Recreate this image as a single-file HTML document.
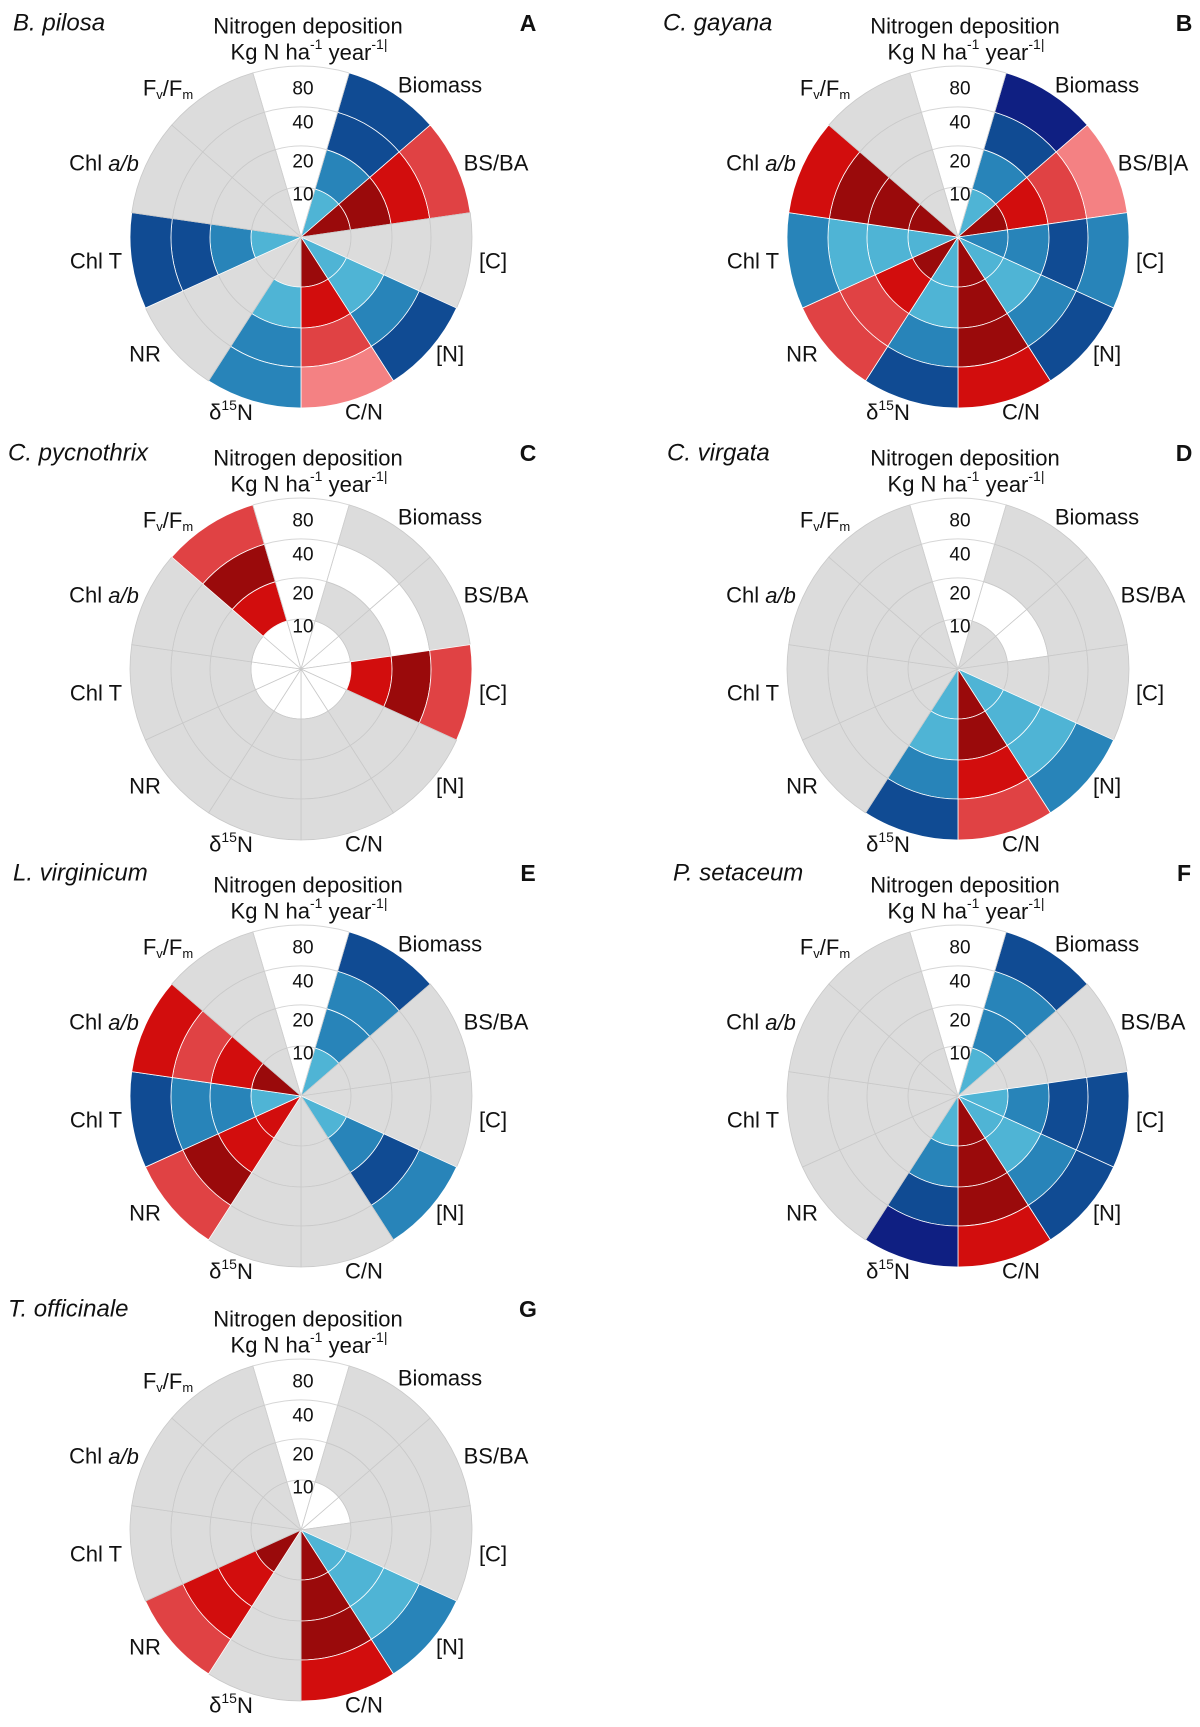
<!DOCTYPE html>
<html><head><meta charset="utf-8">
<style>
html,body{margin:0;padding:0;background:#fff;}
svg{display:block;font-family:"Liberation Sans",Arial,sans-serif;}
</style></head>
<body>
<svg id="fig" width="1200" height="1727" viewBox="0 0 1200 1727" xmlns="http://www.w3.org/2000/svg"></svg>
<script>
// ---- data ----
const categories = ["Biomass","BS/BA","[C]","[N]","C/N","d15N","NR","Chl T","Chl a/b","Fv/Fm"];
const depositionLevels = ["10","20","40","80"];
const speciesNames = ["B. pilosa","C. gayana","C. pycnothrix","C. virgata","L. virginicum","P. setaceum","T. officinale"];
const panelLetters = ["A","B","C","D","E","F","G"];
// effect codes per category, rings inner(10)->outer(80): -4 dark red .. -1 pink, 0 grey (n.s.), 1 light blue .. 4 navy, null = no data
const valuesA = [[1,2,3,3],[-4,-4,-3,-2],[0,0,0,0],[1,1,2,3],[-4,-3,-2,-1],[0,1,2,2],[0,0,0,0],[1,2,3,3],[0,0,0,0],[0,0,0,0]];
const valuesB = [[1,2,3,4],[-4,-3,-2,-1],[2,2,3,2],[1,1,2,3],[-4,-4,-4,-3],[1,1,2,3],[-4,-3,-2,-2],[1,1,1,2],[-4,-4,-4,-3],[0,0,0,0]];
const valuesC = [[null,0,null,0],[null,0,null,0],[null,-3,-4,-2],[null,0,0,0],[null,0,0,0],[null,0,0,0],[null,0,0,0],[null,0,0,0],[null,0,0,0],[null,-3,-4,-2]];
const valuesD = [[0,null,0,0],[0,null,0,0],[0,0,0,0],[1,1,1,2],[-4,-4,-3,-2],[1,1,2,3],[0,0,0,0],[0,0,0,0],[0,0,0,0],[0,0,0,0]];
const valuesE = [[1,2,2,3],[0,0,0,0],[0,0,0,0],[1,2,3,2],[0,0,0,0],[0,0,0,0],[-3,-3,-4,-2],[1,2,2,3],[-4,-3,-2,-3],[0,0,0,0]];
const valuesF = [[1,2,2,3],[0,0,0,0],[1,2,3,3],[1,1,2,3],[-4,-4,-4,-3],[1,2,3,4],[0,0,0,0],[0,0,0,0],[0,0,0,0],[0,0,0,0]];
const valuesG = [[null,0,0,0],[null,0,0,0],[0,0,0,0],[1,1,1,2],[-4,-4,-4,-3],[0,0,0,0],[-4,-3,-3,-2],[0,0,0,0],[0,0,0,0],[0,0,0,0]];
const allValues = [valuesA,valuesB,valuesC,valuesD,valuesE,valuesF,valuesG];

// ---- layout / style ----
const palette = {"-4":"#9a0a0b","-3":"#d20d0d","-2":"#e04244","-1":"#f48183","0":"#dcdcdc","1":"#4fb4d5","2":"#2884b9","3":"#104b93","4":"#0f1f82"};
const centers = [[301,237],[958,237],[301,669],[958,669],[301,1096],[958,1096],[301,1530]];
const speciesDy = [-214,-214,-216,-216,-223,-223,-221];
const ringR = [50,91,130,171];
const NS = "http://www.w3.org/2000/svg";
const svg = document.getElementById('fig');
const nSect = categories.length + 1;
const step = 360 / nSect;
function angleOf(i){ return step/2 + i*step; }
function pt(cx,cy,r,a){ const t=a*Math.PI/180; return [cx+r*Math.sin(t), cy-r*Math.cos(t)]; }
function cellPath(cx,cy,r0,r1,a0,a1){
  const p1=pt(cx,cy,r1,a0), p2=pt(cx,cy,r1,a1);
  if(r0<=0){
    return `M${cx},${cy}L${p1[0]},${p1[1]}A${r1},${r1} 0 0 1 ${p2[0]},${p2[1]}Z`;
  }
  const p3=pt(cx,cy,r0,a1), p4=pt(cx,cy,r0,a0);
  return `M${p1[0]},${p1[1]}A${r1},${r1} 0 0 1 ${p2[0]},${p2[1]}L${p3[0]},${p3[1]}A${r0},${r0} 0 0 0 ${p4[0]},${p4[1]}Z`;
}
function mk(tag, attrs, parent){
  const e=document.createElementNS(NS,tag);
  for(const k in attrs) e.setAttribute(k, attrs[k]);
  (parent||svg).appendChild(e);
  return e;
}
const labelOffsets = [[139,-152],[195,-74],[192,24],[149,117],[63,175],[-70,175],[-156,117],[-205,24],[-197,-74],[-133,-149]];
const labelHTML = ["Biomass","BS/BA","[C]","[N]","C/N",
  'δ<tspan font-size="14" dy="-7">15</tspan><tspan dy="7">N</tspan>',"NR","Chl T",
  'Chl <tspan font-style="italic">a/b</tspan>',
  'F<tspan font-size="13" dy="6">v</tspan><tspan dy="-6">/F</tspan><tspan font-size="13" dy="6">m</tspan>'];
const tickY = [-42,-75,-114,-148];

allValues.forEach((vals, p) => {
  const [cx,cy] = centers[p];
  const g = mk('g',{});
  
  
  ringR.forEach((r) => {
    const a=pt(cx,cy,r,-step/2), b=pt(cx,cy,r,step/2);
    const arc = mk('path',{d:`M${a[0]},${a[1]}A${r},${r} 0 0 1 ${b[0]},${b[1]}`, fill:'none', stroke:'#d6d6d6', 'stroke-width':1}, g);
    
    
  });
  vals.forEach((ringVals, i) => {
    const a0 = angleOf(i), a1 = a0 + step;
    ringVals.forEach((v, k) => {
      const r0 = k===0 ? 0 : ringR[k-1], r1 = ringR[k];
      const fill = v===null ? '#ffffff' : palette[String(v)];
      const stroke = (v===null || v===0) ? '#c9c9c9' : '#ffffff';
      const c = mk('path',{d:cellPath(cx,cy,r0,r1,a0,a1), fill:fill, stroke:stroke, 'stroke-width':0.8}, g);
      
      
    });
  });
  [-step/2, step/2].forEach(a => {
    const q = pt(cx,cy,ringR[3],a);
    const s = mk('line',{x1:cx,y1:cy,x2:q[0],y2:q[1],stroke:'#cfcfcf','stroke-width':0.8}, g);
    
    
  });
  depositionLevels.forEach((lv, k) => {
    const t = mk('text',{x:cx+2,y:cy+tickY[k],'text-anchor':'middle','dominant-baseline':'central','font-size':19,fill:'#111'}, g);
    t.textContent = lv;
    
    
  });
  categories.forEach((c, i) => {
    const [dx,dy] = labelOffsets[i];
    const t = mk('text',{x:cx+dx,y:cy+dy,'text-anchor':'middle','dominant-baseline':'central','font-size':22,fill:'#111'}, g);
    let html = labelHTML[i];
    if(p===1 && i===1) html = "BS/B|A";
    t.innerHTML = html;
    
    
  });
  const t1 = mk('text',{x:cx+7,y:cy-211,'text-anchor':'middle','dominant-baseline':'central','font-size':22,fill:'#111'}, g);
  t1.textContent = 'Nitrogen deposition';
  
  
  const t2 = mk('text',{x:cx+8,y:cy-185,'text-anchor':'middle','dominant-baseline':'central','font-size':22,fill:'#111'}, g);
  t2.innerHTML = 'Kg N ha<tspan font-size="14" dy="-8">-1</tspan><tspan dy="8"> year</tspan><tspan font-size="14" dy="-8">-1|</tspan>';
  
  
  const left = p%2===0;
  const sp = mk('text',{x: left ? (p===2||p===6 ? 8 : 13) : 663 + (p===3?4:p===5?10:0), y: cy+speciesDy[p],'dominant-baseline':'central','font-size':24,'font-style':'italic',fill:'#111'}, g);
  sp.textContent = speciesNames[p];
  
  
  const lt = mk('text',{x: left ? 528 : 1184, y: cy+speciesDy[p],'text-anchor':'middle','dominant-baseline':'central','font-size':23,'font-weight':'bold',fill:'#111'}, g);
  lt.textContent = panelLetters[p];
  
  
});
</script>
</body></html>
